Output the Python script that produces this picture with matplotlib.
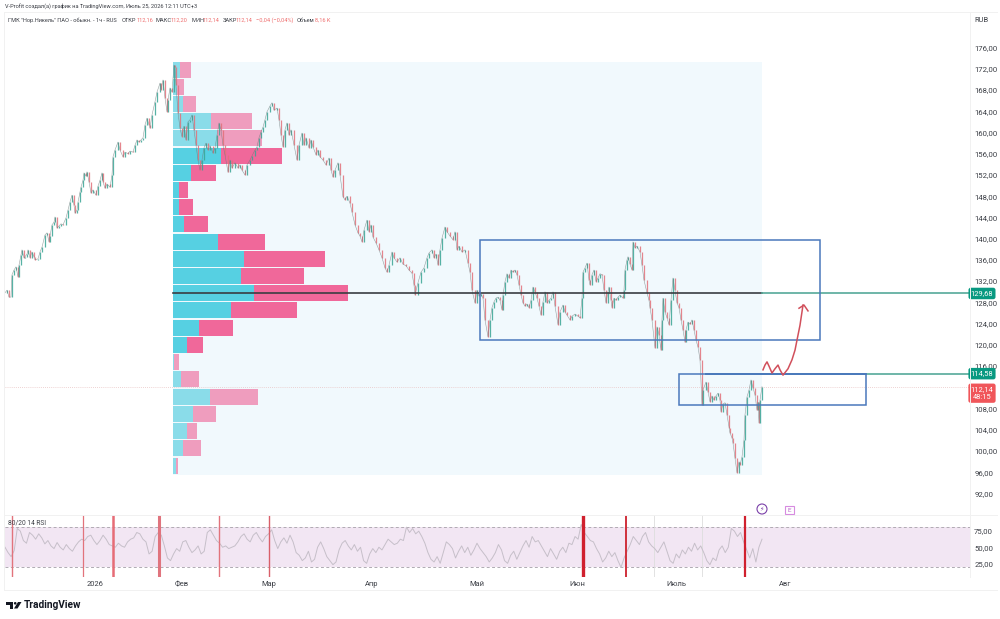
import matplotlib
matplotlib.use('Agg')
import matplotlib.pyplot as plt
from matplotlib.lines import Line2D
from matplotlib.patches import Ellipse, Polygon, Rectangle

plt.rcParams['font.family'] = ['Roboto', 'DejaVu Sans']

# bar position on the time scale and closing price
bar_x = [
    5, 7, 9, 11, 12, 14, 16, 18, 19, 21, 22, 24, 25, 27, 28, 30, 32, 34, 35, 38, 40, 42, 45, 47, 49, 50, 52, 54, 55, 57,
    59, 61, 63, 66, 68, 70, 72, 74, 75, 77, 78, 80, 81, 83, 84, 86, 87, 89, 91, 93, 96, 98, 100, 102, 103, 105, 107,
    110, 112, 113, 115, 118, 120, 123, 125, 128, 130, 133, 135, 137, 139, 141, 143, 145, 147, 149, 150, 152, 155, 157,
    160, 161, 163, 165, 167, 168, 170, 172, 174,
    175, 176, 178, 180, 182, 184, 186, 188, 190, 192, 194, 196, 198, 200, 202, 204, 206, 208, 210, 213, 215, 217, 219,
    221, 223, 225, 228, 230, 232, 235, 238, 240, 242, 245, 247, 250, 252, 255, 257, 259, 261, 263, 265, 267, 270, 272,
    274, 277, 279, 281, 283, 285, 287, 289, 291, 294, 297, 299, 302, 304, 306, 309, 311, 313, 316, 318, 320, 323, 326,
    329, 331, 333, 335, 338, 340, 343,
    345, 347, 350, 352, 355, 358, 360, 362, 364, 367, 369, 371, 373, 376, 379, 382, 385, 387, 389, 392, 394, 397, 400,
    403, 406, 409, 412, 414, 415, 418, 421, 424, 427, 429, 432, 434, 436, 438, 440, 442, 445, 447, 450, 453, 455, 457,
    459, 462, 465, 468, 470, 472, 475,
    477, 479, 481, 483, 485, 488, 490, 492, 494, 496, 498, 500, 502, 503, 505, 507, 509, 511, 513, 515, 517, 519, 521,
    523, 525, 527, 529, 531, 533, 535, 537, 539, 541, 543, 545, 547, 549, 551, 553, 555, 558, 560, 563, 565, 567, 570,
    572, 575, 578, 580, 582, 583, 585, 587, 589, 590, 592, 594, 596, 598, 600, 602, 604, 606, 608, 609, 611, 612, 614,
    616, 618, 620, 623, 624, 625, 627, 628, 630, 632, 633, 635, 637, 640, 642, 644, 647, 649, 650, 652, 655, 657, 659,
    661, 662, 663, 665, 667, 669, 671, 673, 675, 677, 679, 681, 683, 685, 686, 688, 690, 692, 694, 696, 698, 700,
    702, 703, 706, 708, 710, 712, 714, 716, 718, 720, 721, 723, 725, 727, 729, 730, 732, 733, 735, 737, 739, 740, 742,
    744, 745, 747, 749, 751, 753, 755, 757, 758, 759, 760, 762,
]
close = [
    129.8, 130.3, 129.0, 129.0, 133.2, 134.1, 134.7, 132.8, 135.0, 136.9, 137.9, 136.4, 136.6, 137.1, 137.9, 136.4,
    137.5, 136.6, 136.0, 136.2, 137.5, 138.4, 140.7, 141.1, 139.4, 140.5, 142.6, 143.1, 144.1, 142.0, 142.4, 142.8,
    142.6, 143.9, 145.4, 146.9, 148.2, 146.3, 144.8, 145.4, 146.9, 148.8, 149.7, 151.0, 152.4, 151.8, 152.6, 150.7,
    148.6, 149.2, 148.2, 149.9, 151.0, 152.4, 150.7, 149.5, 150.3, 149.7, 152.0, 155.4, 156.7, 158.2, 156.7, 155.4,
    156.3, 156.0, 156.5, 156.3, 157.6, 158.6, 158.2, 158.6, 159.0, 161.4, 162.7, 161.4, 160.8, 163.3, 165.8, 167.6,
    169.3, 168.0, 169.9, 166.5, 163.9, 166.1, 168.4, 167.6, 172.7,
    172.3, 168.9, 163.7, 160.8, 159.2, 161.2, 158.6, 162.0, 162.4, 163.3, 160.5, 157.6, 154.8, 152.9, 154.8, 157.1,
    158.0, 156.7, 157.5, 156.1, 157.1, 159.5, 161.8, 160.5, 157.6, 155.8, 152.5, 154.8, 153.3, 154.3, 153.3, 153.9,
    152.9, 152.0, 153.9, 154.8, 155.6, 156.7, 157.3, 159.0, 160.1, 161.0, 162.4, 163.9, 165.0, 165.6, 164.2, 164.6,
    162.4, 159.5, 157.3, 160.5, 161.8, 159.5, 160.5, 157.6, 154.8, 157.6, 159.9, 157.6, 159.0, 157.1, 158.6, 157.3,
    155.8, 156.7, 155.4, 154.8, 153.9, 155.2, 152.9, 151.6, 152.9, 154.3, 152.0, 147.9,
    147.3, 148.0, 146.7, 145.0, 142.6, 141.1, 140.5, 139.4, 141.6, 143.5, 141.3, 142.6, 140.3, 139.2, 137.9, 136.4,
    134.5, 133.7, 135.0, 137.5, 136.4, 135.6, 136.4, 135.2, 134.9, 134.1, 133.5, 131.3, 129.4, 131.7, 133.7, 134.5,
    136.4, 137.3, 137.9, 136.4, 137.1, 135.0, 137.9, 140.1, 142.2, 141.3, 140.5, 139.8, 141.3, 137.9, 138.6, 137.5,
    137.9, 135.4, 133.7, 130.3, 127.9,
    130.3, 129.2, 129.6, 128.8, 124.7, 121.5, 124.7, 127.0, 128.1, 128.8, 129.0, 128.4, 126.6, 129.4, 131.9, 133.4,
    132.6, 134.1, 133.7, 134.1, 133.2, 131.3, 129.4, 127.9, 127.3, 127.7, 127.0, 128.4, 130.9, 130.0, 128.8, 127.3,
    125.6, 128.1, 130.0, 127.9, 128.4, 128.8, 130.0, 127.3, 123.8, 126.2, 127.5, 126.2, 125.6, 124.7, 125.4, 125.8,
    125.4, 125.1, 128.8, 133.7, 134.5, 135.4, 132.2, 131.3, 133.2, 134.1, 131.9, 132.6, 133.4, 133.2, 130.3, 127.9,
    130.0, 130.9, 128.4, 127.0, 128.8, 128.4, 129.0, 129.4, 128.8, 130.3, 134.1, 136.0, 136.6, 135.2, 134.1, 139.4,
    138.3, 138.6, 137.5, 135.0, 132.2, 129.8, 128.4, 127.0, 124.7, 119.4, 123.4, 121.9, 119.0, 124.7, 128.8, 126.2,
    125.1, 123.8, 128.4, 132.6, 130.3, 127.9, 127.0, 124.7, 122.8, 120.5, 122.8, 124.3, 123.9, 124.7, 122.8, 120.9,
    119.6, 117.2,
    108.7, 111.5, 113.0, 111.1, 109.3, 110.4, 109.6, 110.4, 110.9, 109.6, 107.4, 108.9, 109.1, 106.8, 104.4, 103.4,
    102.5, 101.5, 98.7, 95.9, 98.0, 97.4, 98.9, 102.1, 106.8, 110.2, 111.5, 113.4, 111.9, 110.6, 107.7, 109.2, 105.3,
    109.6, 112.14,
]

# visible range volume profile, one row per price bucket from the top
profile_top = [
    173.3, 170.1, 166.9, 163.7, 160.5, 157.1, 153.9, 150.7, 147.5, 144.3, 140.9, 137.7, 134.5, 131.3, 128.1,
    124.7, 121.5, 118.3, 115.1, 111.7, 108.5, 105.3, 102.1, 98.7,
]
vol_up = [7, 4, 10, 38, 44, 48, 18, 6, 6, 11, 45, 71, 68, 81, 58, 26, 14, 1, 8, 37, 20, 14, 10, 3]
vol_down = [11, 7, 13, 41, 45, 61, 25, 9, 14, 24, 47, 81, 63, 94, 66, 34, 16, 5, 18, 48, 23, 10, 18, 2]
value_area = [0, 0, 0, 0, 0, 1, 1, 1, 1, 1, 1, 1, 1, 1, 1, 1, 1, 0, 0, 0, 0, 0, 0, 0]

# red arrow sketched above the lower zone
curve_x = [763, 765, 767, 769, 772, 775, 778, 780, 783, 788, 792, 795, 797, 800, 803]
curve_price = [115.3, 116.2, 116.8, 116.0, 114.7, 115.5, 116.2, 115.3, 114.3, 115.5, 117.2, 119.0, 120.9, 123.7, 127.5]
head_x = [799, 804, 808]
head_price = [126.9, 127.5, 126.4]

price_ticks = [92, 96, 100, 104, 108, 116, 120, 124, 128, 132, 136, 140, 144, 148, 152, 156, 160, 164, 168, 172, 176]

rsi_values = [
    50, 42, 36, 45, 78, 74, 60, 56, 72, 68, 62, 70, 64, 55, 60, 52, 48, 57, 50, 46, 54, 48, 44, 52, 58, 62, 60, 66, 68,
    60, 54, 60, 68, 62, 54, 52, 50, 56, 52, 50, 58, 62, 64, 72, 70, 62, 58, 40, 44, 66, 72, 68, 52, 34, 30, 40, 48, 44,
    58, 60, 50, 42, 46, 52, 40, 44, 72, 76, 68, 60, 56, 50, 52, 48, 50, 52, 58, 66, 70, 62, 58, 68, 72, 64, 58, 66, 70,
    76, 60, 48, 58, 64, 56, 68, 58, 42, 38, 30, 34, 44, 28, 32, 50, 58, 48, 36, 30, 24, 28, 46, 56, 60, 52, 46, 54, 44,
    50, 30, 26, 40, 48, 42, 50, 46, 54, 62, 58, 54, 56, 62, 60, 80, 72, 78, 70, 74, 66, 56, 42, 32, 28, 36, 26, 42, 58,
    54, 48, 34, 44, 52, 42, 50, 38, 46, 56, 48, 42, 36, 28, 34, 42, 54, 46, 30, 26, 38, 44, 32, 42, 52, 60, 50, 66, 58,
    60, 52, 44, 36, 48, 40, 32, 44, 50, 42, 56, 54, 66, 62, 84, 72, 66, 60, 58, 48, 40, 28, 34, 44, 36, 42, 30, 20, 34,
    44, 54, 66, 60, 54, 66, 72, 58, 52, 48, 42, 50, 58, 44, 30, 26, 40, 34, 46, 40, 50, 44, 56, 46, 52, 42, 30, 24, 34,
    30, 46, 52, 42, 50, 78, 74, 66, 72, 58, 46, 34, 48, 28, 50, 62,
]
rsi_alert_x = [12, 83, 113, 159, 219, 269, 583, 626, 745]
rsi_alert_w = [1.0, 0.9, 1.8, 2.2, 1.0, 1.0, 2.4, 1.4, 1.6]
rsi_alert_c = ['#e2737c', '#e2737c', '#e66c76', '#e0747e', '#e2737c', '#d95f6a', '#d0202e', '#d0303c', '#d0202e']
rsi_ticks = [25, 50, 75]

month_x = [95, 182, 269, 372, 477, 577, 676, 785]
month_labels = ['2026', 'Фев', 'Мар', 'Апр', 'Май', 'Июн', 'Июль', 'Авг']

UP = '#3aa595'
DOWN = '#e2717a'
TEXT = '#3c3f46'
RED = '#ef7070'
GREEN = '#089981'
BLUE = '#4a78bc'


def comma(value, digits=2):
    return f'{value:.{digits}f}'.replace('.', ',')


fig = plt.figure(figsize=(10, 6.19), dpi=100)
W, H = 1000, 619
ax = fig.add_axes([5 / W, 1 - 515 / H, 965 / W, 503 / H])
rsi_ax = fig.add_axes([5 / W, 1 - 577 / H, 965 / W, 62 / H])

# price pane
ax.set_xlim(5, 970)
ax.set_ylim(87.96, 182.69)
for spine in ax.spines.values():
    spine.set_visible(False)
ax.xaxis.set_visible(False)
ax.yaxis.tick_right()
ax.set_yticks(price_ticks)
ax.set_yticklabels([comma(t) for t in price_ticks], fontsize=5.6, color=TEXT)
ax.tick_params(axis='y', length=0, pad=3)

ax.add_patch(Rectangle((173, 95.5), 589, 77.8, color='#f1f9fd', lw=0, zorder=0))

# volume profile rows, buy side then sell side
row_h = 3.05
for top, up, down, strong in zip(profile_top, vol_up, vol_down, value_area):
    ax.barh(top - row_h / 2, up, height=row_h, left=173,
            color='#56d0e2' if strong else '#8adce9', lw=0, zorder=1)
    ax.barh(top - row_h / 2, down, height=row_h, left=173 + up,
            color='#f0689a' if strong else '#ef9dbe', lw=0, zorder=1)

# candles as a body from the previous close, with a thin line through them
for i in range(1, len(close)):
    color = UP if close[i] >= close[i - 1] else DOWN
    ax.vlines(bar_x[i], close[i - 1], close[i], color=color, lw=0.9, alpha=0.85, zorder=3)
ax.plot(bar_x, close, color='#6d7a7a', lw=0.4, alpha=0.7, zorder=4)

# last price, point of control and resistance levels
ax.axhline(112.14, color='#e9c4c4', lw=0.6, ls=(0, (1, 1.5)), zorder=2)
ax.plot([173, 762], [129.68, 129.68], color='#3a3d42', lw=1.2, zorder=5)
ax.plot([762, 970], [129.68, 129.68], color='#55a999', lw=1.2, zorder=5)
ax.plot([706, 970], [114.58, 114.58], color='#55a999', lw=1.2, zorder=5)
ax.plot([706, 866], [114.58, 114.58], color=BLUE, lw=1.2, zorder=6)

ax.add_patch(Rectangle((480, 121.0), 340, 18.7, fill=False, ec=BLUE, lw=1.1, zorder=6))
ax.add_patch(Rectangle((679, 108.6), 187, 6.0, fill=False, ec=BLUE, lw=1.1, zorder=6))

ax.plot(curve_x, curve_price, color='#d1505c', lw=1.1, zorder=7)
ax.plot(head_x, head_price, color='#d1505c', lw=1.1, zorder=7)

# price tags on the scale
for price, label, color in [(129.68, '129,68', GREEN), (114.58, '114,58', GREEN)]:
    ax.text(982, price, label, ha='center', va='center', fontsize=5.4, color='white', clip_on=False, zorder=9,
            bbox=dict(boxstyle='round,pad=0.3', fc=color, ec='none'))
ax.text(982, 110.9, '112,14\n48:15', ha='center', va='center', fontsize=5.4, color='white', clip_on=False,
        linespacing=1.15, zorder=9, bbox=dict(boxstyle='round,pad=0.3', fc='#f0565a', ec='none'))

# RSI pane
rsi_ax.set_xlim(5, 970)
rsi_ax.set_ylim(5.6, 98.1)
for spine in rsi_ax.spines.values():
    spine.set_visible(False)
rsi_ax.yaxis.tick_right()
rsi_ax.set_yticks(rsi_ticks)
rsi_ax.set_yticklabels([comma(t) for t in rsi_ticks], fontsize=5.6, color=TEXT)
rsi_ax.tick_params(axis='y', length=0, pad=3)
rsi_ax.set_xticks(month_x)
rsi_ax.set_xticklabels(month_labels, fontsize=5.4, color=TEXT)
rsi_ax.tick_params(axis='x', length=0, pad=3)

rsi_ax.axhspan(20, 80, color='#f2e6f3', lw=0, zorder=0)
rsi_ax.axhline(80, color='#b0abb3', lw=0.7, ls=(0, (3, 2.5)), zorder=1)
rsi_ax.axhline(20, color='#b0abb3', lw=0.7, ls=(0, (3, 2.5)), zorder=1)
rsi_x = [5 + i * 757 / (len(rsi_values) - 1) for i in range(len(rsi_values))]
rsi_ax.plot(rsi_x, rsi_values, color='#c6bfc9', lw=0.7, zorder=2)
for x, width, color in zip(rsi_alert_x, rsi_alert_w, rsi_alert_c):
    rsi_ax.axvline(x, color=color, lw=width, zorder=3)
for x in [654, 702]:
    rsi_ax.axvline(x, color='#dddddd', lw=0.6, zorder=1)

# frame lines of the chart widget
for x0, y0, x1, y1 in [(4, 12, 997, 12), (4, 515, 997, 515), (4, 590, 997, 590), (4, 12, 4, 590),
                       (970, 12, 970, 577)]:
    fig.add_artist(Line2D([x0 / W, x1 / W], [1 - y0 / H, 1 - y1 / H], color='#f1f1f1', lw=0.7))


def put(x, y, text, **kw):
    kw.setdefault('fontsize', 4.1)
    kw.setdefault('color', TEXT)
    kw.setdefault('va', 'center')
    fig.text(x / W, 1 - y / H, text, **kw)


put(5, 7, 'V-Profit создал(а) график на TradingView.com, Июль 25, 2026 12:11 UTC+3')
put(8, 20, 'ГМК "Нор.Никель" ПАО - обыкн. - 1ч - RUS')
legend_parts = [
    (122, 'ОТКР', TEXT), (137, '112,16', RED), (156, 'МАКС', TEXT), (171, '112,20', RED),
    (191, 'МИН', TEXT), (203, '112,14', RED), (223, 'ЗАКР', TEXT), (236, '112,14', RED),
    (256, '−0,04 (−0,04%)', RED), (297, 'Объем', TEXT), (315, '8,16 K', RED),
]
for x, label, color in legend_parts:
    put(x, 20, label, color=color)
put(981, 21, 'RUB', ha='center', fontsize=5.4)
put(8, 523, '80/20 14 RSI', fontsize=4.8)

# event markers under the price pane
fig.add_artist(Ellipse((762 / W, 1 - 509 / H), 10 / W, 10 / H, transform=fig.transFigure, fill=False,
                       ec='#7a3fa8', lw=0.8))
put(762, 509, '\u26a1', ha='center', fontsize=4.5, color='#7a3fa8', family=['DejaVu Sans'])
fig.add_artist(Rectangle((785 / W, 1 - 514 / H), 9 / W, 8 / H, transform=fig.transFigure, fill=False,
                         ec='#d78be0', lw=0.8))
put(789.5, 510, 'E', ha='center', fontsize=4.6, color='#b765c8')

# TradingView mark
logo = '#131722'
for shape in [[(6, 602), (13, 602), (13, 608.5), (10, 608.5), (10, 604.6), (6, 604.6)],
              [(18, 602), (21.5, 602), (17.5, 608.5), (14, 608.5)]]:
    fig.add_artist(Polygon([(x / W, 1 - y / H) for x, y in shape], transform=fig.transFigure, fc=logo, ec='none'))
fig.add_artist(Ellipse((15.2 / W, 1 - 603.3 / H), 2.6 / W, 2.6 / H, transform=fig.transFigure, fc=logo, ec='none'))
put(24, 605, 'TradingView', fontsize=7.3, fontweight='bold', color=logo)

fig.savefig('out.png', dpi=100)
